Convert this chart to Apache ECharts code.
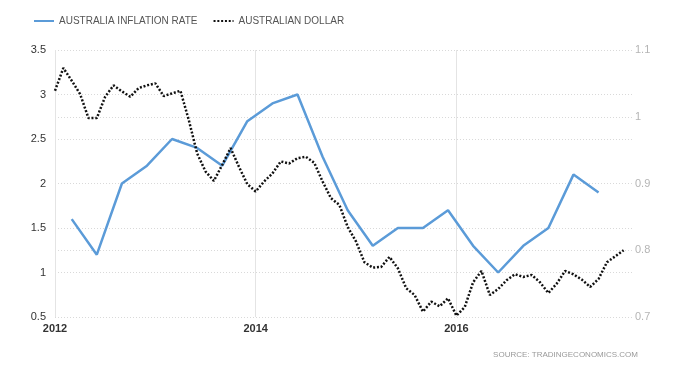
<!DOCTYPE html>
<html>
<head>
<meta charset="utf-8">
<script src="https://cdn.jsdelivr.net/npm/echarts@6/dist/echarts.min.js"></script>
<style>
html,body{margin:0;padding:0;background:#fff;}
#chart{width:680px;height:372px;}
</style>
</head>
<body>
<div id="chart"></div>
<script>
// Monthly categories Jan 2012 .. Oct 2017
const months = [];
for (let y = 2012; y <= 2017; y++) {
  for (let m = 1; m <= 12; m++) {
    if (y === 2017 && m > 10) break;
    months.push(y + '-' + String(m).padStart(2, '0'));
  }
}

// Australia inflation rate (quarterly, %)
const inflationDates = ['2012-03','2012-06','2012-09','2012-12','2013-03','2013-06','2013-09','2013-12',
  '2014-03','2014-06','2014-09','2014-12','2015-03','2015-06','2015-09','2015-12',
  '2016-03','2016-06','2016-09','2016-12','2017-03','2017-06'];
const inflationValues = [1.6,1.2,2.0,2.2,2.5,2.4,2.2,2.7,2.9,3.0,2.3,1.7,1.3,1.5,1.5,1.7,1.3,1.0,1.3,1.5,2.1,1.9];

// Australian dollar (monthly, USD), Jan 2012 .. Sep 2017
const dollarValues = [
  1.039,1.073,1.054,1.034,0.998,0.998,1.030,1.047,1.038,1.030,1.043,1.047,
  1.050,1.031,1.035,1.039,0.995,0.945,0.918,0.904,0.928,0.953,0.925,0.899,
  0.888,0.903,0.915,0.933,0.930,0.938,0.940,0.931,0.903,0.878,0.868,0.835,
  0.813,0.782,0.774,0.775,0.790,0.773,0.743,0.733,0.708,0.723,0.716,0.728,
  0.702,0.715,0.752,0.769,0.733,0.742,0.755,0.764,0.760,0.763,0.752,0.736,
  0.750,0.769,0.764,0.756,0.745,0.757,0.782,0.791,0.800
];

const leftTicks = {min: 0.5, max: 3.5, interval: 0.5};
const rightTicks = {min: 0.7, max: 1.1, interval: 0.1};

const inflationSeries = months.map(m => {
  const i = inflationDates.indexOf(m);
  return i >= 0 ? inflationValues[i] : null;
});

const isLabelIdx = (idx) => {
  const m = months[idx];
  return m.endsWith('-01') && (parseInt(m.slice(0, 4)) % 2 === 0);
};

const FONT = 'Liberation Sans, Arial, sans-serif';

const chart = echarts.init(document.getElementById('chart'), null, {renderer: 'canvas'});
chart.setOption({
  animation: false,
  backgroundColor: '#ffffff',
  textStyle: {fontFamily: FONT},
  legend: {
    left: 28, top: 11,
    itemWidth: 20, itemHeight: 12, itemGap: 15,
    itemStyle: {opacity: 0},
    textStyle: {fontSize: 10, color: '#555', fontFamily: FONT},
    data: ['AUSTRALIA INFLATION RATE', 'AUSTRALIAN DOLLAR']
  },
  grid: {left: 55, right: 48, top: 50, bottom: 55, containLabel: false},
  xAxis: {
    type: 'category',
    data: months,
    boundaryGap: false,
    axisLine: {show: false},
    axisTick: {show: false},
    axisLabel: {
      interval: (idx) => isLabelIdx(idx),
      formatter: (v) => v.slice(0, 4),
      color: '#333', fontSize: 11, fontWeight: 'bold', margin: 6,
      fontFamily: FONT
    },
    splitLine: {show: true, interval: (idx) => isLabelIdx(idx), lineStyle: {color: '#e4e4e4', width: 1}}
  },
  yAxis: [
    {
      type: 'value', position: 'left',
      min: leftTicks.min, max: leftTicks.max, interval: leftTicks.interval,
      axisLine: {show: false}, axisTick: {show: false},
      axisLabel: {color: '#333', fontSize: 11, margin: 9, fontFamily: FONT},
      splitLine: {show: true, lineStyle: {color: '#d9d9d9', type: [1, 2], width: 1}}
    },
    {
      type: 'value', position: 'right',
      min: rightTicks.min, max: rightTicks.max, interval: rightTicks.interval,
      axisLine: {show: false}, axisTick: {show: false},
      axisLabel: {color: '#b5b5b5', fontSize: 11, margin: 3, fontFamily: FONT},
      splitLine: {show: true, lineStyle: {color: '#d9d9d9', type: [1, 2], width: 1}}
    }
  ],
  series: [
    {
      name: 'AUSTRALIA INFLATION RATE',
      type: 'line', yAxisIndex: 0,
      data: inflationSeries, connectNulls: true,
      showSymbol: false, symbol: 'none',
      lineStyle: {color: '#5b9bd8', width: 2.5},
      itemStyle: {color: '#5b9bd8'},
      z: 3
    },
    {
      name: 'AUSTRALIAN DOLLAR',
      type: 'line', yAxisIndex: 1,
      data: dollarValues,
      showSymbol: false, symbol: 'none',
      lineStyle: {color: '#111', width: 2.5, type: [2, 1.8]},
      itemStyle: {color: '#111'},
      z: 4
    }
  ],
  graphic: [
    {
      type: 'text', right: 42, top: 351,
      style: {text: 'SOURCE: TRADINGECONOMICS.COM', fill: '#999', fontSize: 8, fontFamily: FONT}
    }
  ]
});
</script>
</body>
</html>
